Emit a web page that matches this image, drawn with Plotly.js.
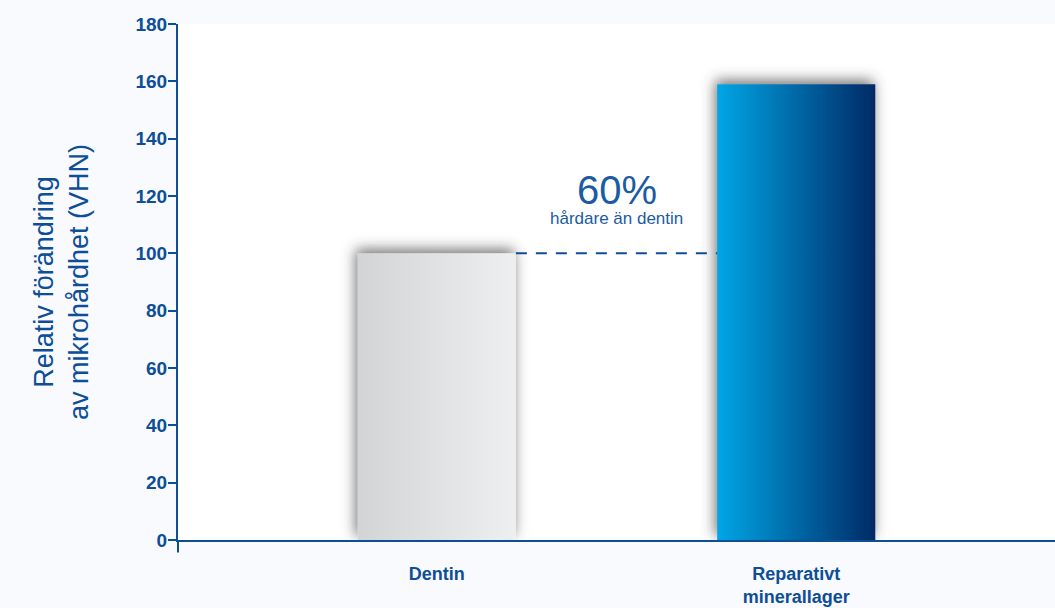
<!DOCTYPE html>
<html>
<head>
<meta charset="utf-8">
<script src="https://cdn.plot.ly/plotly-3.0.1.min.js"></script>
<style>
  html, body { margin: 0; padding: 0; background: #f8fafd; }
  #chart { width: 1055px; height: 608px; }
</style>
</head>
<body>
<div id="chart"></div>
<script>
// ---- data ----
const categories = ['Dentin', 'Reparativt<br>minerallager'];
const values = [100, 159];
const yTickValues = [0, 20, 40, 60, 80, 100, 120, 140, 160, 180];
const yTitle = 'Relativ förändring<br>av mikrohårdhet (VHN)';
const noteBig = '60%';
const noteSmall = 'hårdare än dentin';

// ---- style ----
const navy = '#0d4e96';
const barWidth = 0.44;
const gradients = [
  ['#d2d4d6', '#eeeff0'],
  ['#05a6e6', '#002a66']
];

const trace = {
  type: 'bar',
  x: [0, 1],
  y: values,
  width: barWidth,
  marker: { color: ['#e0e1e3', '#0062a6'], line: { width: 0 } },
  hoverinfo: 'skip'
};

const layout = {
  width: 1055,
  height: 608,
  margin: { l: 178, r: 0, t: 24, b: 68 },
  paper_bgcolor: '#f8fafd',
  plot_bgcolor: '#ffffff',
  font: { family: 'Liberation Sans, Arial, sans-serif', color: navy },
  showlegend: false,
  xaxis: {
    range: [-0.72, 1.72],
    tickvals: [0, 1],
    ticktext: categories,
    showline: true,
    linecolor: navy,
    linewidth: 2,
    ticks: '',
    showgrid: false,
    zeroline: false,
    ticklabelstandoff: 16,
    tickfont: { size: 18, weight: 'bold', color: navy },
    fixedrange: true
  },
  yaxis: {
    range: [0, 180],
    tickvals: yTickValues,
    showline: true,
    linecolor: navy,
    linewidth: 2,
    ticks: 'outside',
    ticklen: 8,
    tickwidth: 2,
    tickcolor: navy,
    showgrid: false,
    zeroline: false,
    ticklabelstandoff: -3,
    tickfont: { size: 19, weight: 'bold', color: navy },
    title: { text: yTitle, font: { size: 27, color: navy }, standoff: 39 },
    fixedrange: true
  },
  shapes: [
    {
      type: 'line', xref: 'x', yref: 'y',
      x0: 0 + barWidth / 2, x1: 1 - barWidth / 2,
      y0: values[0], y1: values[0],
      line: { color: navy, width: 2, dash: '11px,9px' }
    },
    {
      type: 'line', xref: 'paper', yref: 'paper',
      x0: 0, x1: 0, y0: -0.024, y1: 0,
      line: { color: navy, width: 2 }
    }
  ],
  annotations: [
    { x: 0.5, y: 122, xref: 'x', yref: 'y', text: noteBig, showarrow: false,
      font: { size: 40, color: '#1b5ba4' } },
    { x: 0.5, y: 112, xref: 'x', yref: 'y', text: noteSmall, showarrow: false,
      font: { size: 17, color: '#1b5ba4' } }
  ]
};

Plotly.newPlot('chart', [trace], layout, { displayModeBar: false, staticPlot: true }).then(function (gd) {
  const svgNS = 'http://www.w3.org/2000/svg';
  const svg = gd.querySelector('svg.main-svg');
  let defs = svg.querySelector('defs');
  if (!defs) { defs = document.createElementNS(svgNS, 'defs'); svg.insertBefore(defs, svg.firstChild); }
  gradients.forEach(function (g, i) {
    const lg = document.createElementNS(svgNS, 'linearGradient');
    lg.setAttribute('id', 'barGrad' + i);
    lg.setAttribute('x1', '0'); lg.setAttribute('y1', '0');
    lg.setAttribute('x2', '1'); lg.setAttribute('y2', '0');
    [[0, g[0]], [1, g[1]]].forEach(function (s) {
      const st = document.createElementNS(svgNS, 'stop');
      st.setAttribute('offset', s[0]);
      st.setAttribute('stop-color', s[1]);
      lg.appendChild(st);
    });
    defs.appendChild(lg);
  });
  const f = document.createElementNS(svgNS, 'filter');
  f.setAttribute('id', 'barShadow');
  f.setAttribute('x', '-30%'); f.setAttribute('y', '-30%');
  f.setAttribute('width', '160%'); f.setAttribute('height', '160%');
  const ds = document.createElementNS(svgNS, 'feDropShadow');
  ds.setAttribute('dx', '-2'); ds.setAttribute('dy', '-4');
  ds.setAttribute('stdDeviation', '7');
  ds.setAttribute('flood-color', '#444444');
  ds.setAttribute('flood-opacity', '0.75');
  f.appendChild(ds);
  defs.appendChild(f);
  const paths = gd.querySelectorAll('.barlayer .point path');
  paths.forEach(function (p, i) {
    p.style.fill = 'url(#barGrad' + i + ')';
    p.setAttribute('filter', 'url(#barShadow)');
  });
});
</script>
</body>
</html>
